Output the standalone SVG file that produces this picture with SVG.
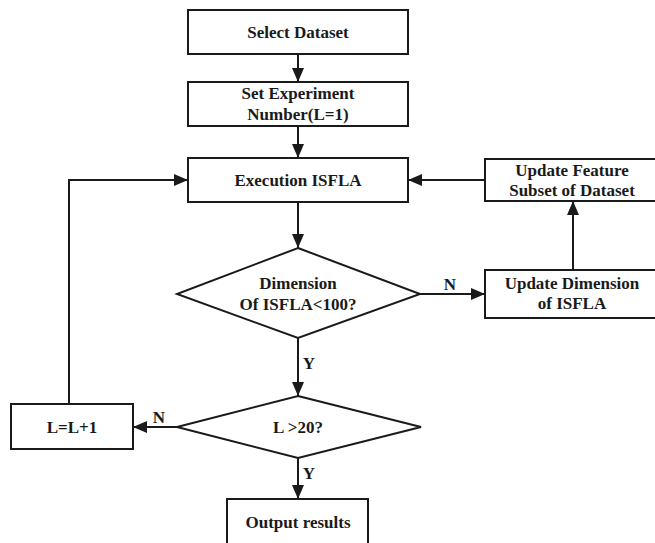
<svg xmlns="http://www.w3.org/2000/svg" width="655" height="543" viewBox="0 0 655 543">
<style>
.box{fill:#fff;stroke:#1a1a1a;stroke-width:2}
.t{font-family:"Liberation Serif","Times New Roman",serif;font-weight:bold;font-size:17px;fill:#1a1a1a;text-anchor:middle}
.c{fill:none;stroke:#1a1a1a;stroke-width:2}
</style>
<defs>
<marker id="ah" markerUnits="userSpaceOnUse" markerWidth="14" markerHeight="12" viewBox="0 0 14 12" refX="14" refY="6" orient="auto">
<path d="M0,0 L14,6 L0,12 Z" fill="#1a1a1a"/>
</marker>
</defs>
<rect width="655" height="543" fill="#fff"/>
<g id="connectors">
<line class="c" x1="298" y1="54" x2="298" y2="82" marker-end="url(#ah)"/>
<line class="c" x1="298" y1="126" x2="298" y2="158" marker-end="url(#ah)"/>
<line class="c" x1="298" y1="202" x2="298" y2="248" marker-end="url(#ah)"/>
<line class="c" x1="298" y1="338" x2="298" y2="396" marker-end="url(#ah)"/>
<line class="c" x1="298" y1="458" x2="298" y2="499" marker-end="url(#ah)"/>
<line class="c" x1="420" y1="294" x2="485" y2="294" marker-end="url(#ah)"/>
<line class="c" x1="573" y1="270" x2="573" y2="201" marker-end="url(#ah)"/>
<line class="c" x1="485" y1="180" x2="408" y2="180" marker-end="url(#ah)"/>
<line class="c" x1="177" y1="427" x2="133" y2="427" marker-end="url(#ah)"/>
<polyline class="c" points="69,404 69,180 188,180" marker-end="url(#ah)"/>
<text class="t" x="450" y="290">N</text>
<text class="t" x="309" y="369">Y</text>
<text class="t" x="159" y="423">N</text>
<text class="t" x="309" y="479">Y</text>
</g>
<g id="select-dataset">
<rect class="box" x="188" y="10" width="220" height="44"/>
<text class="t" x="298" y="38">Select Dataset</text>
</g>
<g id="set-experiment">
<rect class="box" x="188" y="82" width="220" height="44"/>
<text class="t" x="298" y="99">Set Experiment</text>
<text class="t" x="298" y="120">Number(L=1)</text>
</g>
<g id="execution">
<rect class="box" x="188" y="158" width="220" height="44"/>
<text class="t" x="298" y="186">Execution ISFLA</text>
</g>
<g id="update-feature">
<rect class="box" x="485" y="159" width="175" height="42"/>
<text class="t" x="572" y="176">Update Feature</text>
<text class="t" x="572" y="196">Subset of Dataset</text>
</g>
<g id="dimension-check">
<polygon class="box" points="298,248 420,294 298,338 177,294"/>
<text class="t" x="298" y="289">Dimension</text>
<text class="t" x="298" y="310">Of ISFLA&lt;100?</text>
</g>
<g id="update-dimension">
<rect class="box" x="485" y="270" width="175" height="48"/>
<text class="t" x="572" y="289">Update Dimension</text>
<text class="t" x="572" y="309">of ISFLA</text>
</g>
<g id="l-check">
<polygon class="box" points="298,396 421,427 298,458 177,427"/>
<text class="t" x="298" y="433">L &gt;20?</text>
</g>
<g id="l-increment">
<rect class="box" x="11" y="404" width="122" height="45"/>
<text class="t" x="72" y="433">L=L+1</text>
</g>
<g id="output">
<rect class="box" x="227" y="499" width="141" height="50"/>
<text class="t" x="298" y="528">Output results</text>
</g>
</svg>
